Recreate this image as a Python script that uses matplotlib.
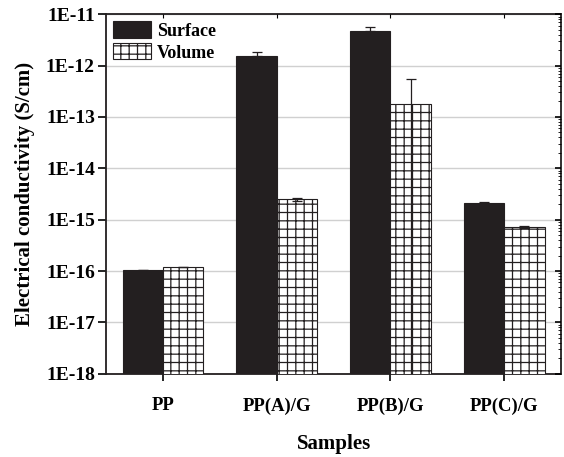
import numpy as np
import matplotlib
matplotlib.use('Agg')
from matplotlib import pyplot as plt
from matplotlib.ticker import LogLocator, FixedLocator, NullFormatter

# данные
samples = ['PP', 'PP(A)/G', 'PP(B)/G', 'PP(C)/G']
surface = [1.07e-16, 1.55e-12, 4.7e-12, 2.1e-15]
surface_err = [0.0, 0.3e-12, 0.9e-12, 0.15e-15]
volume = [1.2e-16, 2.5e-15, 1.77e-13, 7.3e-16]
volume_err = [0.0, 0.2e-15, 3.7e-13, 0.3e-16]
y_ticks = [1e-11, 1e-12, 1e-13, 1e-14, 1e-15, 1e-16, 1e-17, 1e-18]
y_labels = ['1E-11', '1E-12', '1E-13', '1E-14', '1E-15', '1E-16', '1E-17', '1E-18']


def main():
    plt.rcParams['font.family'] = ['Liberation Serif', 'DejaVu Serif']
    plt.rcParams['font.weight'] = 'bold'
    plt.rcParams['hatch.linewidth'] = 0.9
    plt.rcParams['hatch.color'] = '#231f20'

    dark = '#231f20'
    fig = plt.figure(figsize=(5.64, 4.57), dpi=100)
    ax = fig.add_axes([0.188, 0.182, 0.807, 0.787])

    x = np.arange(1, len(samples) + 1)
    w = 0.355

    ax.bar(x - w / 2, surface, w, color=dark, edgecolor=dark,
           linewidth=0.8, label='Surface', zorder=3)
    ax.bar(x + w / 2, volume, w, color='white', edgecolor=dark,
           linewidth=0.8, hatch='++', label='Volume', zorder=3)

    # планки погрешностей
    ax.errorbar(x - w / 2, surface, yerr=[np.zeros(4), surface_err], fmt='none',
                ecolor=dark, elinewidth=0.9, capsize=3.5, capthick=0.9, zorder=4)
    ax.errorbar(x + w / 2, volume, yerr=[volume_err, volume_err], fmt='none',
                ecolor=dark, elinewidth=0.9, capsize=3.5, capthick=0.9, zorder=4)

    ax.set_yscale('log')
    ax.set_ylim(1e-18, 1e-11)
    ax.set_xlim(0.5, 4.5)
    ax.set_yticks(y_ticks)
    ax.set_yticklabels(y_labels, fontsize=14, fontweight='bold')
    ax.yaxis.set_minor_locator(FixedLocator([]))
    ax.set_xticks(x)
    ax.set_xticklabels(samples, fontsize=13.5, fontweight='bold')

    ax.grid(axis='y', which='major', color='#d0d0d0', linewidth=1.0, zorder=0)
    ax.tick_params(axis='y', which='major', direction='out', length=6, width=1.2, pad=2)
    ax.tick_params(axis='x', which='major', direction='out', length=5, width=1.2, pad=12)
    for s in ax.spines.values():
        s.set_linewidth(1.3)
        s.set_color(dark)

    # правая ось: тики внутрь, с минорными
    axr = ax.twinx()
    axr.set_yscale('log')
    axr.set_ylim(ax.get_ylim())
    axr.yaxis.set_major_locator(FixedLocator(y_ticks))
    axr.yaxis.set_minor_locator(LogLocator(base=10, subs=np.arange(2, 10), numticks=20))
    axr.yaxis.set_major_formatter(NullFormatter())
    axr.yaxis.set_minor_formatter(NullFormatter())
    axr.tick_params(axis='y', which='major', direction='in', length=4, width=1.2)
    axr.tick_params(axis='y', which='minor', direction='in', length=2.5, width=0.6)

    # верхняя ось: тики внутрь
    axt = ax.twiny()
    axt.set_xlim(ax.get_xlim())
    axt.set_xticks(x)
    axt.set_xticklabels([])
    axt.tick_params(axis='x', direction='in', length=3, width=0.8)
    for a in (axr, axt):
        for s in a.spines.values():
            s.set_visible(False)

    ax.set_ylabel('Electrical conductivity (S/cm)', fontsize=15, fontweight='bold',
                  labelpad=8)
    ax.set_xlabel('Samples', fontsize=15, fontweight='bold', labelpad=14)

    leg = ax.legend(loc='upper left', frameon=False, fontsize=13, handlelength=2.1,
                    handleheight=1.0, borderaxespad=0.2, borderpad=0.2,
                    labelspacing=0.2, handletextpad=0.3)
    for t in leg.get_texts():
        t.set_fontweight('bold')

    fig.savefig('out.png', dpi=100)


if __name__ == '__main__':
    main()
